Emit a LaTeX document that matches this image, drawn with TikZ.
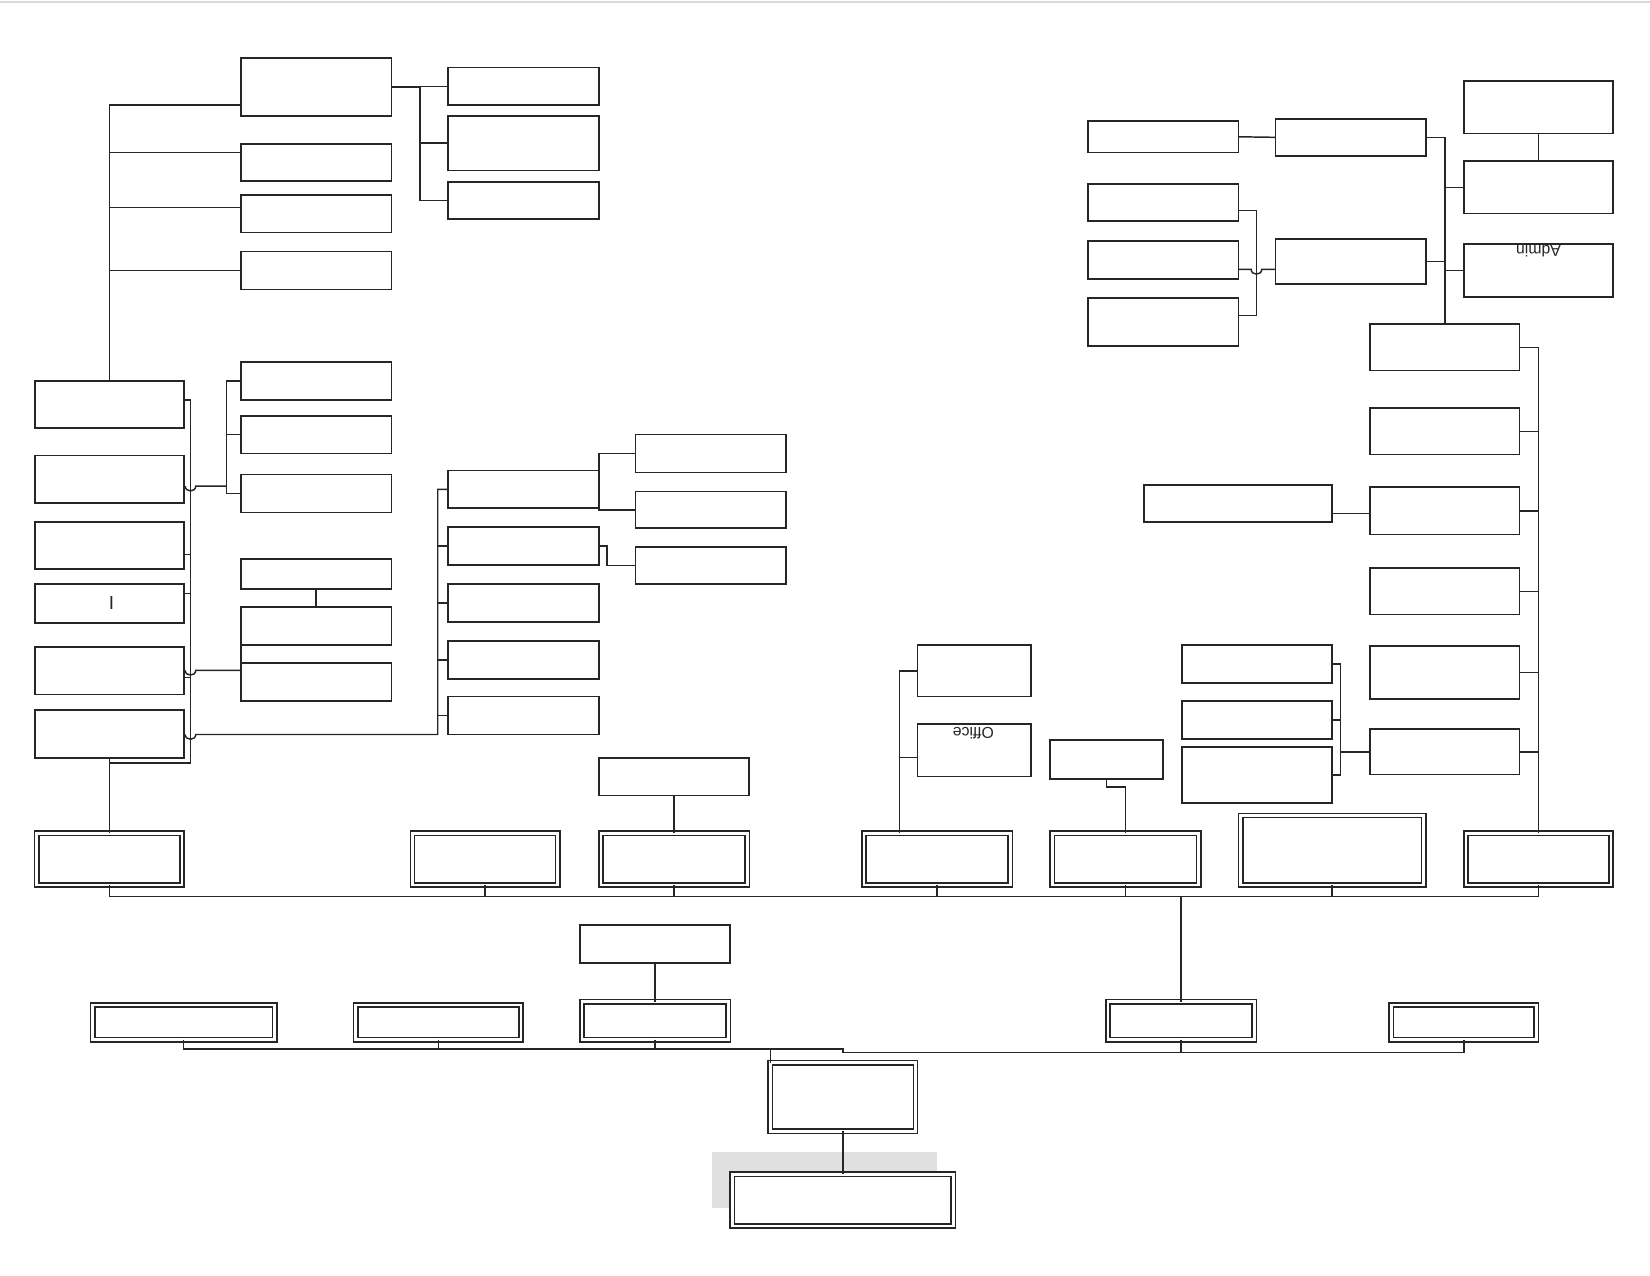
\documentclass[tikz,border=0pt]{standalone}
\usepackage{fontspec}
\setmainfont{Liberation Sans}
\tikzset{
  box/.style={draw=black!85, line width=1.6pt, fill=white, inner sep=0pt, outer sep=0pt},
  dbox/.style={draw=black!85, line width=1.5pt, double=white, double distance=2.6pt, fill=white, inner sep=0pt, outer sep=0pt},
  conn/.style={draw=black!85, line width=1.4pt},
  txt/.style={font=\fontsize{15}{16}\selectfont, text=black!85, inner sep=0pt}
}
\newcommand\bx[5]{\node[box, minimum width={(#4-#2)*1pt}, minimum height={(#5-#3)*1pt}, anchor=north west] (#1) at (#2,#3) {};}
\newcommand\dbx[5]{\node[dbox, minimum width={(#4-#2-4)*1pt}, minimum height={(#5-#3-4)*1pt}, anchor=north west] (#1) at (#2+2,#3+2) {};}
\begin{document}
\begin{tikzpicture}[x=1pt,y=-1pt]
\useasboundingbox (0,0) rectangle (1568,1212);
\draw[black!15, line width=2pt] (0,2) -- (1568,2);
\fill[black!12] (677,1095) rectangle (890,1148);
% ---- left top group
\bx{B1}{229}{55}{372}{110}
\bx{B2}{229}{137}{372}{172}
\bx{B3}{229}{185}{372}{221}
\bx{B4}{229}{239}{372}{275}
\bx{C1}{426}{64}{569}{100}
\bx{C2}{426}{110}{569}{162}
\bx{C3}{426}{173}{569}{208}
% ---- left column
\bx{L1}{33}{362}{175}{407}
\bx{L2}{33}{433}{175}{478}
\bx{L3}{33}{496}{175}{541}
\bx{L4}{33}{555}{175}{592}
\bx{L5}{33}{615}{175}{660}
\bx{L6}{33}{675}{175}{720}
\node[txt, font=\fontsize{18}{19}\selectfont] (tI) at (106,573) {I};
% ---- R group
\bx{R1}{229}{344}{372}{380}
\bx{R2}{229}{395}{372}{431}
\bx{R3}{229}{451}{372}{487}
\bx{R4}{229}{531}{372}{560}
\bx{R5}{229}{577}{372}{613}
\bx{R6}{229}{630}{372}{666}
% ---- M group
\bx{M1}{426}{447}{569}{483}
\bx{M2}{426}{501}{569}{537}
\bx{M3}{426}{555}{569}{591}
\bx{M4}{426}{609}{569}{645}
\bx{M5}{426}{662}{569}{698}
\bx{N1}{604}{413}{747}{449}
\bx{N2}{604}{467}{747}{502}
\bx{N3}{604}{520}{747}{555}
\bx{P1}{569}{720}{712}{756}
% ---- middle-right groups
\bx{O1}{872}{613}{980}{662}
\bx{O2}{872}{688}{980}{738}
\node[txt, rotate=180] (toffice) at (925,697) {Office};
\bx{Q1}{998}{703}{1105}{740}
\bx{CC1}{1123}{613}{1266}{649}
\bx{CC2}{1123}{666}{1266}{702}
\bx{CC3}{1123}{710}{1266}{763}
% ---- right column
\bx{K1}{1302}{308}{1444}{352}
\bx{K2}{1302}{388}{1444}{432}
\bx{K3}{1302}{463}{1444}{508}
\bx{K4}{1302}{540}{1444}{584}
\bx{K5}{1302}{614}{1444}{664}
\bx{K6}{1302}{693}{1444}{736}
\bx{S1}{1087}{461}{1266}{496}
% ---- top right
\bx{T1}{1034}{115}{1177}{145}
\bx{T2}{1212}{113}{1355}{148}
\bx{T3}{1212}{227}{1355}{270}
\bx{V1}{1034}{175}{1177}{210}
\bx{V2}{1034}{229}{1177}{265}
\bx{V3}{1034}{283}{1177}{329}
\bx{U1}{1391}{77}{1533}{127}
\bx{U2}{1391}{153}{1533}{203}
\bx{U3}{1391}{232}{1533}{282}
\node[txt, rotate=180] (tadmin) at (1462,239) {Admin};
% ---- double row 1
\dbx{D1}{33}{790}{175}{843}
\dbx{D2}{390}{790}{532}{843}
\dbx{D3}{569}{790}{712}{843}
\dbx{D4}{819}{790}{962}{843}
\dbx{D5}{998}{790}{1141}{843}
\dbx{D6}{1177}{773}{1355}{843}
\dbx{D7}{1391}{790}{1533}{843}
% ---- row 2
\bx{F1}{551}{879}{694}{915}
\dbx{E1}{86}{953}{263}{990}
\dbx{E2}{336}{953}{497}{990}
\dbx{E3}{551}{950}{694}{990}
\dbx{E4}{1051}{950}{1194}{990}
\dbx{E5}{1320}{953}{1462}{990}
\dbx{G}{730}{1008}{872}{1077}
\dbx{H}{694}{1114}{908}{1167}
% ================= connectors
\begin{scope}[conn]
% left top
\draw (B1.west |- 0,100) -| (L1.north);
\draw (B2.west |- 0,145) -- (L1.north |- 0,145);
\draw (B3.west |- 0,197) -- (L1.north |- 0,197);
\draw (B4.west |- 0,257) -- (L1.north |- 0,257);
\draw (B1.east) -- ++(27,0) coordinate (jb) |- (C3.west);
\draw (jb) |- (C1.west);
\draw (jb) |- (C2.west);
% left column bracket
\draw (L1.east |- 0,380) -- (181,380) coordinate (lb) -- (181,725) -| (L6.south);
\draw (L3.east |- 0,527) -- (lb |- 0,527);
\draw (L4.east |- 0,564) -- (lb |- 0,564);
\draw (L5.east |- 0,644) -- (lb |- 0,644);
\draw (L6.south) -- (D1.north);
% R group
\draw (R1.west) -- ++(-14,0) coordinate (rb) |- (R3.west);
\draw (rb) |- (R2.west);
\draw (rb |- 0,462) -- (186,462) .. controls +(0,6) and +(0,6) .. (176,462);
\draw (R4.south) -- (R5.north);
\draw (R5.south west) -- (R6.north west);
\draw (R6.west |- 0,637) -- (186,637) .. controls +(0,6) and +(0,6) .. (176,637);
% M group
\draw (M1.west) -- ++(-10,0) coordinate (mb) -- (mb |- 0,698) -- (186,698) .. controls +(0,6) and +(0,6) .. (176,698);
\draw (M2.west) -- (mb |- M2.west);
\draw (M3.west) -- (mb |- M3.west);
\draw (M4.west) -- (mb |- M4.west);
\draw (M5.west) -- (mb |- M5.west);
\draw (N1.west) -| (M1.north east);
\draw (N2.west) -| (M1.south east);
\draw (M2.east) -- ++(8,0) |- (N3.west);
\draw (P1.south) -- (D3.north);
% office group
\draw (O1.west) -- ++(-17,0) coordinate (ob) -- (ob |- D4.north);
\draw (O2.west |- 0,720) -- (ob |- 0,720);
\draw (Q1.south) -- ++(0,8) -| (D5.north);
% C group
\draw (CC1.east) -- ++(8,0) coordinate (cb) |- (CC3.east);
\draw (cb) |- (CC2.east);
\draw (cb |- K6.west) -- (K6.west);
% right column
\draw (K1.east) -- (D7.north |- K1.east) -- (D7.north);
\draw (K2.east) -- (D7.north |- K2.east);
\draw (K3.east) -- (D7.north |- K3.east);
\draw (K4.east) -- (D7.north |- K4.east);
\draw (K5.east) -- (D7.north |- K5.east);
\draw (K6.east) -- (D7.north |- K6.east);
\draw (S1.east |- 0,488) -- (K3.west |- 0,488);
% top right
\draw (K1.north) -- (K1.north |- T2.east) -- (T2.east);
\draw (U2.west) -- (K1.north |- U2.west);
\draw (U3.west |- 0,257) -- (K1.north |- 0,257);
\draw (T3.east) -- (K1.north |- T3.east);
\draw (U1.south) -- (U2.north);
\draw (T1.east) -- (T2.west);
\draw (V1.east |- 0,200) -- (1194,200) -- (1194,300) -- (V3.east |- 0,300);
\draw (T3.west |- 0,256) -- (1199,256) .. controls +(0,6) and +(0,6) .. (1189,256) -- (V2.east |- 0,256);
% bus row 1
\draw (D1.south) -- (D1.south |- 0,852) -- (D7.south |- 0,852) -- (D7.south);
\draw (D2.south) -- (D2.south |- 0,852);
\draw (D3.south) -- (D3.south |- 0,852);
\draw (D4.south) -- (D4.south |- 0,852);
\draw (D5.south) -- (D5.south |- 0,852);
\draw (D6.south) -- (D6.south |- 0,852);
\draw (E4.north) -- (E4.north |- 0,852);
% row 2
\draw (F1.south) -- (E3.north);
\draw (E1.south) -- (E1.south |- 0,997) -- (801,997) -- (801,1000) -- (E5.south |- 0,1000) -- (E5.south);
\draw (E2.south) -- (E2.south |- 0,997);
\draw (E3.south) -- (E3.south |- 0,997);
\draw (E4.south) -- (E4.south |- 0,1000);
\draw (G.north west) -- (G.north west |- 0,997);
\draw (G.south) -- (H.north);
\end{scope}
\end{tikzpicture}
\end{document}
